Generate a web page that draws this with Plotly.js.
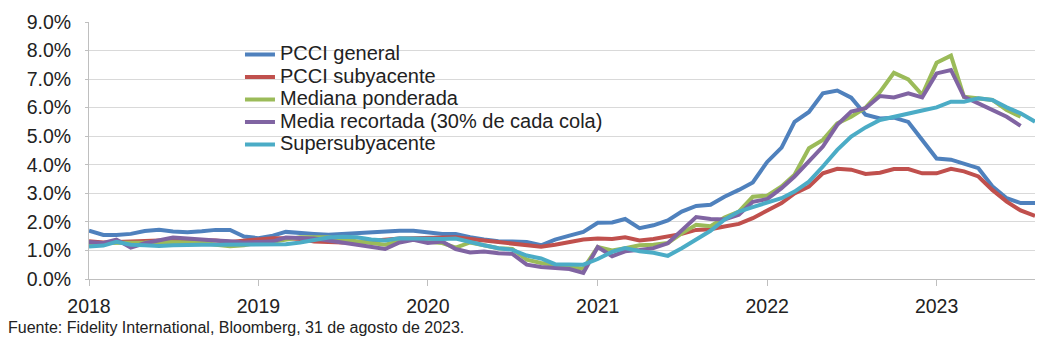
<!DOCTYPE html>
<html>
<head>
<meta charset="utf-8">
<script src="https://cdn.plot.ly/plotly-3.0.1.min.js"></script>
<style>
html,body{margin:0;padding:0;background:#fff;}
#chart{width:1058px;height:350px;}
.legendtext{font-size:20px !important;}
</style>
</head>
<body>
<div id="chart"></div>
<script>
// Monthly observations, Jan 2018 - Aug 2023
const startYear = 2018;
const nMonths = 68;
const yearTicks = ['2018','2019','2020','2021','2022','2023'];

const seriesNames = ['PCCI general','PCCI subyacente','Mediana ponderada','Media recortada (30% de cada cola)','Supersubyacente'];

const pcciGeneral = [
 1.69,1.54,1.54,1.58,1.68,1.72,1.66,1.64,1.67,1.72,1.72,1.49,
 1.43,1.52,1.65,1.63,1.58,1.55,1.58,1.62,1.65,1.68,1.69,1.69,
 1.62,1.58,1.58,1.46,1.38,1.32,1.31,1.30,1.18,1.38,1.52,1.65,
 1.97,1.98,2.10,1.78,1.88,2.05,2.36,2.56,2.60,2.88,3.12,3.38,
 4.10,4.60,5.50,5.85,6.50,6.60,6.35,5.75,5.62,5.65,5.50,4.88,
 4.22,4.18,4.05,3.88,3.25,2.83,2.66,2.66];

const pcciSubyacente = [
 1.32,1.28,1.30,1.30,1.33,1.35,1.35,1.36,1.37,1.35,1.30,1.35,
 1.40,1.43,1.43,1.40,1.31,1.28,1.28,1.30,1.35,1.40,1.42,1.43,
 1.45,1.47,1.46,1.40,1.35,1.30,1.25,1.18,1.13,1.20,1.30,1.38,
 1.42,1.40,1.46,1.35,1.40,1.49,1.58,1.72,1.74,1.84,1.93,2.13,
 2.40,2.66,3.00,3.24,3.70,3.86,3.83,3.68,3.72,3.85,3.85,3.70,
 3.70,3.86,3.77,3.59,3.12,2.71,2.40,2.21];

const medianaPonderada = [
 1.25,1.25,1.28,1.25,1.28,1.30,1.30,1.28,1.28,1.20,1.15,1.18,
 1.28,1.30,1.38,1.46,1.46,1.46,1.38,1.32,1.25,1.20,1.32,1.40,
 1.30,1.26,1.10,1.28,1.18,1.08,1.05,0.68,0.56,0.50,0.42,0.36,
 1.12,1.00,1.08,1.18,1.20,1.26,1.60,1.90,1.85,2.15,2.36,2.88,
 2.92,3.24,3.65,4.58,4.87,5.45,5.68,6.00,6.55,7.22,6.99,6.45,
 7.57,7.82,6.38,6.33,6.27,5.92,5.68];

const mediaRecortada = [
 1.30,1.26,1.38,1.10,1.25,1.35,1.45,1.42,1.40,1.35,1.32,1.28,
 1.30,1.32,1.45,1.44,1.42,1.35,1.28,1.22,1.12,1.05,1.28,1.37,
 1.26,1.31,1.05,0.93,0.96,0.90,0.88,0.50,0.42,0.40,0.35,0.21,
 1.12,0.80,0.97,1.02,1.08,1.25,1.72,2.17,2.10,2.08,2.25,2.70,
 2.80,3.18,3.59,4.11,4.64,5.40,5.86,5.98,6.41,6.36,6.50,6.36,
 7.20,7.32,6.38,6.15,5.92,5.68,5.36];

const supersubyacente = [
 1.14,1.17,1.30,1.20,1.18,1.16,1.18,1.20,1.20,1.20,1.20,1.20,
 1.20,1.20,1.22,1.28,1.35,1.45,1.48,1.46,1.38,1.35,1.43,1.42,
 1.40,1.40,1.42,1.28,1.18,1.08,1.02,0.82,0.72,0.52,0.50,0.50,
 0.70,0.95,1.08,0.97,0.92,0.81,1.08,1.37,1.69,2.08,2.36,2.52,
 2.66,2.83,3.06,3.41,3.94,4.52,4.99,5.31,5.57,5.69,5.80,5.90,
 6.01,6.21,6.21,6.33,6.27,6.01,5.80,5.51];

const colors = ['#4F81BD','#C0504D','#9BBB59','#8064A2','#4BACC6'];

const months = [];
for (let i = 0; i < nMonths; i++) {
  const y = startYear + Math.floor(i / 12);
  const m = (i % 12) + 1;
  months.push(y + '-' + (m < 10 ? '0' + m : m) + '-01');
}

const allSeries = [pcciGeneral, pcciSubyacente, medianaPonderada, mediaRecortada, supersubyacente];
const traces = allSeries.map((vals, k) => ({
  type: 'scatter',
  mode: 'lines',
  name: seriesNames[k],
  x: months.slice(0, vals.length),
  y: vals,
  line: {color: colors[k], width: 4},
  hoverinfo: 'x+y+name'
}));

const FONT = 'Liberation Sans, Arial, Helvetica, sans-serif';

const layout = {
  width: 1058,
  height: 350,
  margin: {l: 89, r: 23, t: 22, b: 71, pad: 0},
  paper_bgcolor: '#ffffff',
  plot_bgcolor: '#ffffff',
  font: {family: FONT, color: '#222222', size: 19.5},
  showlegend: true,
  legend: {
    x: 0.1596, y: 0.937, xanchor: 'left', yanchor: 'top',
    bgcolor: 'rgba(255,255,255,0)',
    font: {family: FONT, size: 15, color: '#222222'},
    tracegroupgap: 0
  },
  xaxis: {
    type: 'date',
    range: [months[0], months[nMonths - 1]],
    tickvals: yearTicks.map(y => y + '-01-01'),
    ticktext: yearTicks,
    ticks: 'outside',
    ticklen: 6,
    tickcolor: '#bfbfbf',
    tickwidth: 1,
    showline: true,
    linecolor: '#bfbfbf',
    linewidth: 1,
    showgrid: false,
    zeroline: false,
    ticklabelstandoff: 4,
    tickfont: {family: FONT, size: 19.5, color: '#222222'}
  },
  yaxis: {
    range: [0, 9],
    dtick: 1,
    tick0: 0,
    tickformat: '.1f',
    ticksuffix: '%',
    ticks: 'outside',
    ticklen: 3,
    tickcolor: '#bfbfbf',
    showline: true,
    linecolor: '#bfbfbf',
    linewidth: 1,
    showgrid: true,
    gridcolor: '#d9d9d9',
    gridwidth: 1,
    zeroline: false,
    ticklabelstandoff: 10,
    tickfont: {family: FONT, size: 19.5, color: '#222222'}
  },
  shapes: [{
    type: 'rect', layer: 'between',
    xref: 'paper', yref: 'y',
    x0: 0.0486, x1: 0.6057, y0: 4.4, y1: 8.6,
    fillcolor: '#ffffff', line: {width: 0}
  }],
  annotations: [{
    text: 'Fuente: Fidelity International, Bloomberg, 31 de agosto de 2023.',
    xref: 'paper', yref: 'paper',
    x: -0.0877, y: -0.187,
    xanchor: 'left', yanchor: 'middle',
    showarrow: false,
    font: {family: FONT, size: 16, color: '#222222'}
  }]
};

Plotly.newPlot('chart', traces, layout, {displayModeBar: false, staticPlot: true});
</script>
</body>
</html>
